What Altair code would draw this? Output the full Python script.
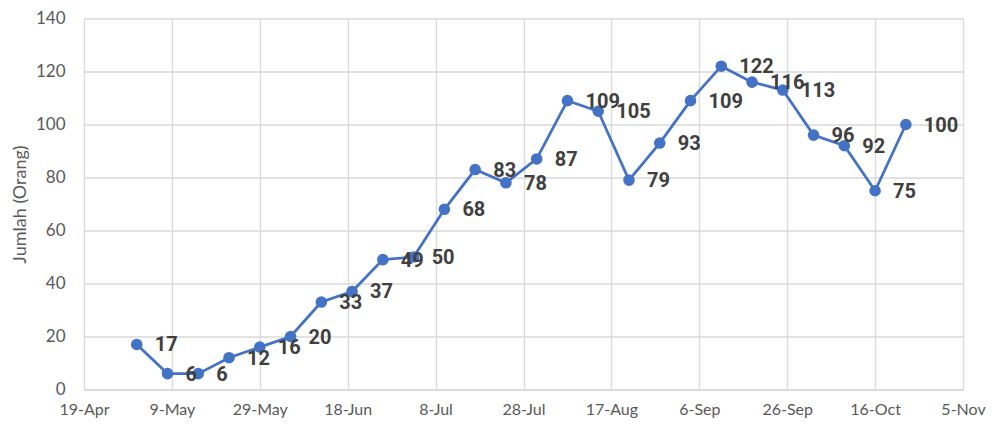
import altair as alt
import pandas as pd

dates = pd.date_range("2020-05-01", periods=26, freq="7D").strftime("%Y-%m-%d").tolist()
values = [17, 6, 6, 12, 16, 20, 33, 37, 49, 50, 68, 83, 78, 87, 109, 105, 79, 93,
          109, 122, 116, 113, 96, 92, 75, 100]
tick_dates = ["2020-04-19", "2020-05-09", "2020-05-29", "2020-06-18", "2020-07-08",
              "2020-07-28", "2020-08-17", "2020-09-06", "2020-09-26", "2020-10-16",
              "2020-11-05"]
y_ticks = [0, 20, 40, 60, 80, 100, 120, 140]

df = pd.DataFrame({"date": dates, "value": values})

axis_font = "Lato"
grid = "#D9D9D9"
label_col = "#595959"

x = alt.X(
    "date:T",
    scale=alt.Scale(domain=[tick_dates[0], tick_dates[-1]]),
    axis=alt.Axis(
        values=[pd.Timestamp(d).isoformat() for d in tick_dates],
        format="%-d-%b",
        title=None,
        grid=True,
        gridColor=grid,
        gridWidth=1.3,
        domainColor=grid,
        domainWidth=1.3,
        ticks=False,
        tickSize=0,
        labelPadding=25,
        labelBaseline="alphabetic",
        labelFont=axis_font,
        labelFontSize=16,
        labelColor=label_col,
        labelFlush=False,
        labelOverlap=False,
    ),
)
y = alt.Y(
    "value:Q",
    scale=alt.Scale(domain=[0, 140], nice=False),
    axis=alt.Axis(
        values=y_ticks,
        title="Jumlah (Orang)",
        titleFont=axis_font,
        titleFontSize=18,
        titleFontWeight="normal",
        titleColor=label_col,
        titleAngle=270,
        titleAlign="center",
        titleBaseline="middle",
        titleX=-64,
        titleY=185.5,
        grid=True,
        gridColor=grid,
        gridWidth=1.3,
        domain=False,
        ticks=False,
        tickSize=0,
        labelPadding=19,
        labelFont=axis_font,
        labelFontSize=17,
        labelColor=label_col,
    ),
)

base = alt.Chart(df)
line = base.mark_line(color="#4472C4", strokeWidth=2.75).encode(x=x, y=y)
pts = base.mark_point(filled=True, opacity=1, size=135, color="#4472C4").encode(x=x, y=y)
labels = base.mark_text(
    align="left", baseline="middle", dx=18, dy=1,
    font="'Liberation Sans Narrow', Roboto, sans-serif", fontSize=20,
    fontWeight="bold", color="#404040",
).encode(x=x, y=y, text="value:Q")

chart = (line + pts + labels).properties(
    width=879, height=371,
    autosize=alt.AutoSizeParams(type="none"),
    padding={"left": 76, "top": 10.5, "right": 26, "bottom": 28.5},
).configure_view(stroke=None)

chart.save("out.html", embed_options={"renderer": "svg", "actions": False})
